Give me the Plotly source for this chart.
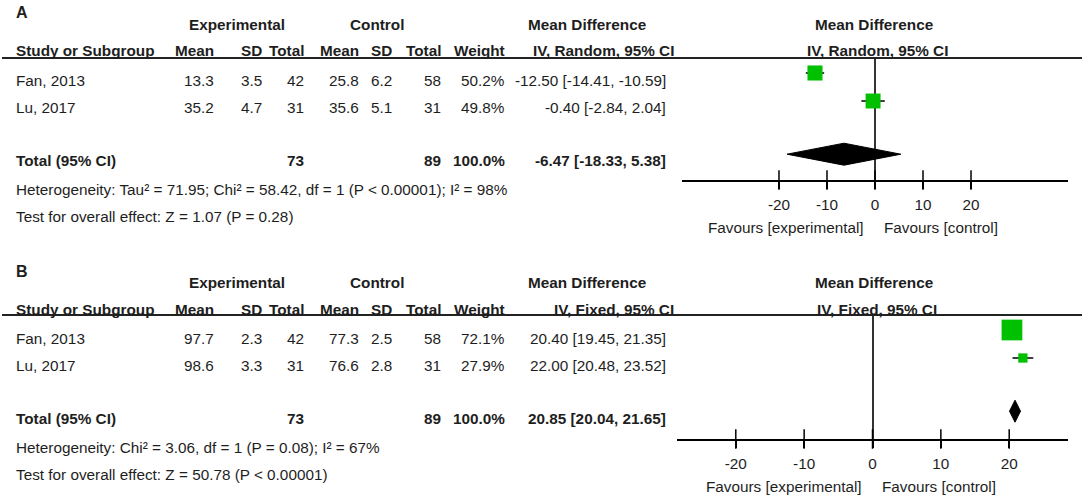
import plotly.graph_objects as go

# Figure size in pixels
W, H = 1084, 498
FONT = "Liberation Sans, Arial, sans-serif"
TXT = "#1e1e1e"
GREEN = "#00c000"
FS = 15.3

studies = ["Fan, 2013", "Lu, 2017"]
tick_vals = [-20, -10, 0, 10, 20]

# Panel A
a_exp_mean = [13.3, 35.2]
a_exp_sd = [3.5, 4.7]
a_exp_n = [42, 31]
a_ctl_mean = [25.8, 35.6]
a_ctl_sd = [6.2, 5.1]
a_ctl_n = [58, 31]
a_weight = [50.2, 49.8]
a_md = [-12.50, -0.40]
a_lo = [-14.41, -2.84]
a_hi = [-10.59, 2.04]
a_total = [-6.47, -18.33, 5.38]  # md, lo, hi
a_total_n = [73, 89]
a_method = "IV, Random, 95% CI"
a_het = "Heterogeneity: Tau² = 71.95; Chi² = 58.42, df = 1 (P < 0.00001); I² = 98%"
a_test = "Test for overall effect: Z = 1.07 (P = 0.28)"

# Panel B
b_exp_mean = [97.7, 98.6]
b_exp_sd = [2.3, 3.3]
b_exp_n = [42, 31]
b_ctl_mean = [77.3, 76.6]
b_ctl_sd = [2.5, 2.8]
b_ctl_n = [58, 31]
b_weight = [72.1, 27.9]
b_md = [20.40, 22.00]
b_lo = [19.45, 20.48]
b_hi = [21.35, 23.52]
b_total = [20.85, 20.04, 21.65]
b_total_n = [73, 89]
b_method = "IV, Fixed, 95% CI"
b_het = "Heterogeneity: Chi² = 3.06, df = 1 (P = 0.08); I² = 67%"
b_test = "Test for overall effect: Z = 50.78 (P < 0.00001)"


def px(x):
    return x / W


def py(y):
    return 1 - y / H


# column right edges of the table (pixels)
COL_X = [216, 264, 306, 361, 394, 443, 507]
CI_X = 668
LEFT_X = 14
ROW_PX = 28


def text(fig, s, x, y, anchor="right", bold=False, size=FS):
    if bold:
        s = "<b>" + s + "</b>"
    fig.add_annotation(text=s, x=px(x), y=py(y), xref="paper", yref="paper",
                       xanchor=anchor, yanchor="middle", showarrow=False,
                       font=dict(family=FONT, size=size, color=TXT))


def add_panel(fig, k, top, label, method, exp_mean, exp_sd, exp_n, ctl_mean, ctl_sd,
              ctl_n, weight, md, lo, hi, total, total_n, het, test, xspan, plot_px):
    xa = "x" if k == 1 else "x%d" % k
    ya = "y" if k == 1 else "y%d" % k
    left, right, box_top, box_bot, row0 = plot_px
    r_top = (box_top - row0) / ROW_PX
    r_bot = (box_bot - row0) / ROW_PX
    total_row = 2.9

    # ---- table text ----
    text(fig, label, LEFT_X, top + 13, "left", True, 16)
    text(fig, "Experimental", 237, top + 24, "center", True)
    text(fig, "Control", 377, top + 24, "center", True)
    text(fig, "Mean Difference", 587, top + 24, "center", True)
    text(fig, "Mean Difference", 874, top + 24, "center", True)
    text(fig, "Study or Subgroup", LEFT_X, top + 51, "left", True)
    for name, x in zip(["Mean", "SD", "Total", "Mean", "SD", "Total", "Weight"], COL_X):
        text(fig, name, x, top + 51, "right", True)
    text(fig, method, 676, top + 51, "right", True)
    text(fig, method, 877, top + 51, "center", True)

    for i, s in enumerate(studies):
        y = top + 80 + 27 * i
        text(fig, s, LEFT_X, y, "left")
        vals = ["%.1f" % exp_mean[i], "%.1f" % exp_sd[i], str(exp_n[i]),
                "%.1f" % ctl_mean[i], "%.1f" % ctl_sd[i], str(ctl_n[i]),
                "%.1f%%" % weight[i]]
        for v, x in zip(vals, COL_X):
            text(fig, v, x, y)
        text(fig, "%.2f [%.2f, %.2f]" % (md[i], lo[i], hi[i]), CI_X, y)

    y = top + 160
    text(fig, "Total (95% CI)", LEFT_X, y, "left", True)
    text(fig, str(total_n[0]), COL_X[2], y, bold=True)
    text(fig, str(total_n[1]), COL_X[5], y, bold=True)
    text(fig, "%.1f%%" % sum(weight), COL_X[6], y, bold=True)
    text(fig, "%.2f [%.2f, %.2f]" % tuple(total), CI_X, y, bold=True)
    text(fig, het, LEFT_X, top + 189, "left")
    text(fig, test, LEFT_X, top + 216, "left")

    # header rule
    fig.add_shape(type="line", xref="paper", yref="paper", x0=px(2), x1=px(1082),
                  y0=py(box_top), y1=py(box_top), line=dict(color="#222", width=2))

    # ---- forest plot ----
    rows = list(range(len(studies)))
    ci_x, ci_y = [], []
    for r, l, h in zip(rows, lo, hi):
        ci_x += [l, h, None]
        ci_y += [r, r, None]
    fig.add_trace(go.Scatter(x=ci_x, y=ci_y, xaxis=xa, yaxis=ya, mode="lines",
                             line=dict(color="black", width=1.5), hoverinfo="skip"))
    fig.add_trace(go.Scatter(
        x=md, y=rows, xaxis=xa, yaxis=ya, mode="markers",
        marker=dict(symbol="square", color=GREEN, size=[2 + 0.26 * w for w in weight],
                    line=dict(width=0), opacity=1),
        cliponaxis=False))

    t_md, t_lo, t_hi = total
    dh = 11 / ROW_PX
    fig.add_trace(go.Scatter(
        x=[t_lo, t_md, t_hi, t_md, t_lo],
        y=[total_row, total_row - dh, total_row, total_row + dh, total_row],
        xaxis=xa, yaxis=ya, mode="lines", fill="toself", fillcolor="black",
        line=dict(color="black", width=1)))

    # ticks crossing the axis line
    fig.add_trace(go.Scatter(
        x=tick_vals, y=[r_bot] * len(tick_vals), xaxis=xa, yaxis=ya, mode="markers",
        marker=dict(symbol="line-ns", size=14, line=dict(width=1.5, color="black")),
        cliponaxis=False, hoverinfo="skip"))

    fig.add_annotation(text="Favours [experimental]", x=0, y=py(top + 228),
                       xref=xa, yref="paper", xanchor="right", yanchor="middle",
                       xshift=-9, showarrow=False,
                       font=dict(family=FONT, size=FS, color=TXT))
    fig.add_annotation(text="Favours [control]", x=0, y=py(top + 228),
                       xref=xa, yref="paper", xanchor="left", yanchor="middle",
                       xshift=7, showarrow=False,
                       font=dict(family=FONT, size=FS, color=TXT))

    xkey = "xaxis" if k == 1 else "xaxis%d" % k
    ykey = "yaxis" if k == 1 else "yaxis%d" % k
    fig.layout[xkey] = dict(
        domain=[px(left), px(right)], range=[-xspan, xspan], anchor=ya,
        showgrid=False, zeroline=True, zerolinecolor="#333", zerolinewidth=1.5,
        showline=True, linecolor="black", linewidth=2,
        tickmode="array", tickvals=tick_vals, ticktext=[str(v) for v in tick_vals],
        ticks="outside", ticklen=7, tickwidth=1.5, tickcolor="black",
        ticklabelstandoff=3,
        tickfont=dict(family=FONT, size=FS, color=TXT), fixedrange=True)
    fig.layout[ykey] = dict(
        domain=[py(box_bot), py(box_top)], range=[r_bot, r_top], anchor=xa,
        visible=False, showgrid=False, zeroline=False, fixedrange=True)


fig = go.Figure()
add_panel(fig, 1, 0, "A", a_method, a_exp_mean, a_exp_sd, a_exp_n, a_ctl_mean, a_ctl_sd,
          a_ctl_n, a_weight, a_md, a_lo, a_hi, a_total, a_total_n, a_het, a_test,
          40.2, (682, 1068, 58, 180, 73))
add_panel(fig, 2, 258, "B", b_method, b_exp_mean, b_exp_sd, b_exp_n, b_ctl_mean, b_ctl_sd,
          b_ctl_n, b_weight, b_md, b_lo, b_hi, b_total, b_total_n, b_het, b_test,
          28.6, (677, 1068, 315, 439, 330))

fig.update_layout(
    width=W, height=H,
    margin=dict(l=0, r=0, t=0, b=0),
    paper_bgcolor="white", plot_bgcolor="white",
    showlegend=False,
    font=dict(family=FONT, color=TXT),
)

fig.write_html("out.html", config={"displayModeBar": False},
               post_script="document.body.style.margin='0';")
